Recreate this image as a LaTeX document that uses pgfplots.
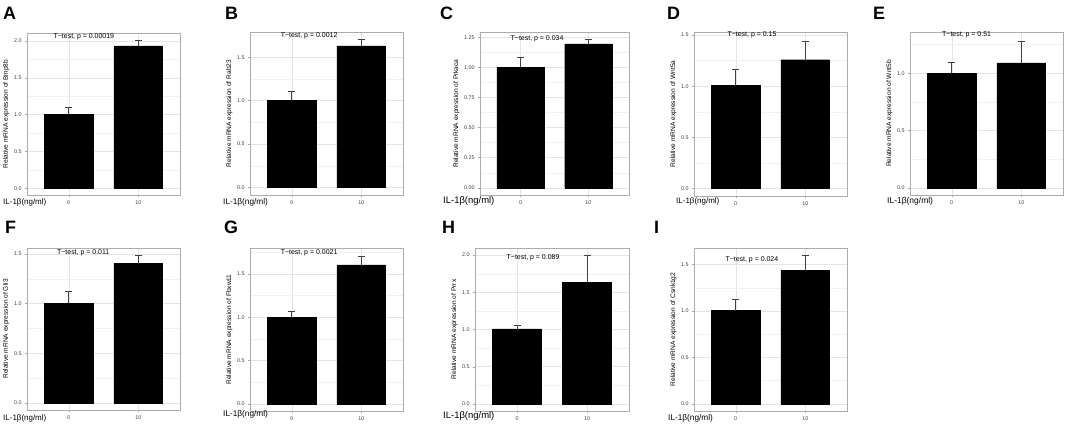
\documentclass[border=0pt]{standalone}
\usepackage{fontspec}
\setmainfont{Liberation Sans}
\usepackage{pgfplots}
\pgfplotsset{compat=1.18}
\pgfplotsset{
 panel/.style={
  scale only axis, ybar, bar width=0.7,
  xmin=-0.6, xmax=1.6, xtick={0,1}, xticklabels={0,10},
  tick align=outside, major tick length=1.8bp,
  tick style={gray!70, line width=0.4bp},
  minor tick length=0pt,
  tick pos=left,
  axis line style={gray!65, line width=0.6bp},
  xmajorgrids, ymajorgrids, yminorgrids,
  major grid style={black!10, line width=0.45bp},
  minor grid style={black!5, line width=0.3bp},
  ticklabel style={font=\fontsize{5.4}{6}\selectfont, text=black!75},
  /pgf/number format/assume math mode=true,
  yticklabel style={/pgf/number format/.cd, fixed, fixed zerofill, precision=1},
  ylabel style={font=\fontsize{6.6}{7}\selectfont, yshift=-2bp},
  scaled y ticks=false,
  xticklabel style={yshift=-0.5bp},
 },
 bars/.style={fill=black, draw=black, line width=0.3bp,
  error bars/.cd, y dir=plus, y explicit,
  error bar style={black!75, line width=0.7bp},
  error mark options={black!75, line width=0.7bp, mark size=3.5bp, rotate=90}},
}
\tikzset{ttest/.style={anchor=west, inner sep=0pt, font=\fontsize{7}{8}\selectfont}}
\newcommand{\il}[3]{\node[anchor=west, inner sep=0pt, font=\fontsize{#3}{#3}\selectfont] at (#1bp,{(424-#2)*1bp}) {IL-1β(ng/ml)};}
\newcommand{\plabel}[3]{\node[anchor=north west, inner sep=0pt, font=\fontsize{18}{18}\selectfont\bfseries] at (#1bp,{(424-#2)*1bp}) {#3};}
\begin{document}
\begin{tikzpicture}
\useasboundingbox (0,0) rectangle (1065bp,424bp);
% A
\begin{axis}[panel, at={(27bp,391bp)}, anchor=north west, width=153bp, height=162bp,
  ymin=-0.091, ymax=2.109, ytick={0,0.5,1,1.5,2}, minor ytick={0.25,0.75,1.25,1.75},
  ylabel={Relative mRNA expression of Bmp8b}]
\addplot[bars] coordinates {(0,1.005) +- (0,0.09) (1,1.933) +- (0,0.077)};
\node[ttest] at (axis cs:-0.22,2.06) {T−test, p = 0.00019};
\end{axis}
% B
\begin{axis}[panel, at={(250bp,392bp)}, anchor=north west, width=153bp, height=163bp,
  ymin=-0.085, ymax=1.79, ytick={0,0.5,1,1.5}, minor ytick={0.25,0.75,1.25,1.75},
  ylabel={Relative mRNA expression of Rab23}]
\addplot[bars] coordinates {(0,1.007) +- (0,0.096) (1,1.63) +- (0,0.073)};
\node[ttest] at (axis cs:-0.16,1.742) {T−test, p = 0.0012};
\end{axis}
% C
\begin{axis}[panel, at={(480bp,392bp)}, anchor=north west, width=149bp, height=163bp,
  ymin=-0.06, ymax=1.293, ytick={0,0.25,0.5,0.75,1,1.25}, minor ytick={0.125,0.375,0.625,0.875,1.125},
  yticklabel style={/pgf/number format/.cd, fixed, fixed zerofill, precision=2},
  ylabel={Relative mRNA expression of Prkaca}]
\addplot[bars] coordinates {(0,1.0) +- (0,0.081) (1,1.194) +- (0,0.036)};
\node[ttest] at (axis cs:-0.15,1.236) {T−test, p = 0.034};
\end{axis}
% D
\begin{axis}[panel, at={(694bp,392bp)}, anchor=north west, width=153bp, height=164bp,
  ymin=-0.074, ymax=1.53, ytick={0,0.5,1,1.5}, minor ytick={0.25,0.75,1.25},
  ylabel={Relative mRNA expression of Wnt5a}]
\addplot[bars] coordinates {(0,1.007) +- (0,0.159) (1,1.259) +- (0,0.184)};
\node[ttest] at (axis cs:-0.12,1.50) {T−test, p = 0.15};
\end{axis}
% E
\begin{axis}[panel, at={(910bp,392bp)}, anchor=north west, width=153bp, height=163bp,
  ymin=-0.062, ymax=1.36, ytick={0,0.5,1}, minor ytick={0.25,0.75,1.25},
  ylabel={Relative mRNA expression of Wnt5b}]
\addplot[bars] coordinates {(0,1.0) +- (0,0.096) (1,1.09) +- (0,0.189)};
\node[ttest] at (axis cs:-0.14,1.333) {T−test, p = 0.51};
\end{axis}
% F
\begin{axis}[panel, at={(27bp,176bp)}, anchor=north west, width=153bp, height=162bp,
  ymin=-0.07, ymax=1.56, ytick={0,0.5,1,1.5}, minor ytick={0.25,0.75,1.25},
  ylabel={Relative mRNA expression of Gli3}]
\addplot[bars] coordinates {(0,1.003) +- (0,0.12) (1,1.404) +- (0,0.08)};
\node[ttest] at (axis cs:-0.17,1.51) {T−test, p = 0.011};
\end{axis}
% G
\begin{axis}[panel, at={(250bp,176bp)}, anchor=north west, width=153bp, height=163bp,
  ymin=-0.082, ymax=1.80, ytick={0,0.5,1,1.5}, minor ytick={0.25,0.75,1.25,1.75},
  ylabel={Relative mRNA expression of Fbxw11}]
\addplot[bars] coordinates {(0,0.999) +- (0,0.073) (1,1.604) +- (0,0.104)};
\node[ttest] at (axis cs:-0.16,1.743) {T−test, p = 0.0021};
\end{axis}
% H
\begin{axis}[panel, at={(475bp,176bp)}, anchor=north west, width=154bp, height=163bp,
  ymin=-0.095, ymax=2.095, ytick={0,0.5,1,1.5,2}, minor ytick={0.25,0.75,1.25,1.75},
  ylabel={Relative mRNA expression of Prrx}]
\addplot[bars] coordinates {(0,1.007) +- (0,0.048) (1,1.637) +- (0,0.358)};
\node[ttest] at (axis cs:-0.15,1.968) {T−test, p = 0.089};
\end{axis}
% I
\begin{axis}[panel, at={(694bp,176bp)}, anchor=north west, width=153bp, height=163bp,
  ymin=-0.077, ymax=1.677, ytick={0,0.5,1,1.5}, minor ytick={0.25,0.75,1.25},
  ylabel={Relative mRNA expression of Csnk1g2}]
\addplot[bars] coordinates {(0,1.003) +- (0,0.118) (1,1.436) +- (0,0.161)};
\node[ttest] at (axis cs:-0.15,1.55) {T−test, p = 0.024};
\end{axis}
% panel letters
\plabel{3}{7}{A}
\plabel{225}{7}{B}
\plabel{440}{7}{C}
\plabel{667}{7}{D}
\plabel{873}{7}{E}
\plabel{5}{221}{F}
\plabel{224}{221}{G}
\plabel{442}{221}{H}
\plabel{654}{221}{I}
% x labels
\il{3}{202}{8}
\il{223}{202}{8.3}
\il{443}{201}{9.5}
\il{676}{201}{8}
\il{887}{201}{8.5}
\il{3}{418.5}{8}
\il{223}{414}{8.3}
\il{443}{416.5}{9.5}
\il{668}{418.5}{8.3}
\end{tikzpicture}
\end{document}
